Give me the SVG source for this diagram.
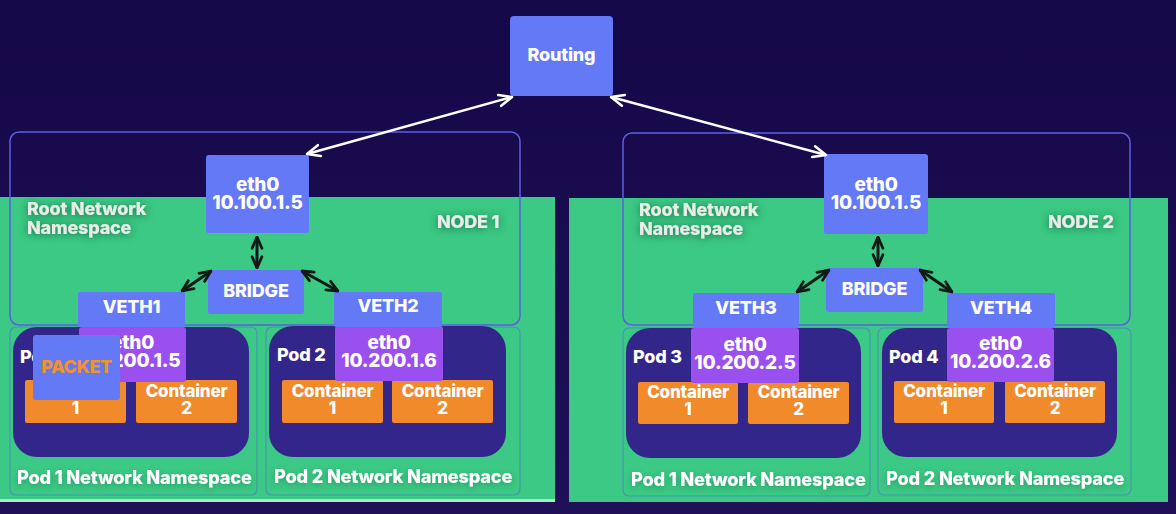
<svg xmlns="http://www.w3.org/2000/svg" width="1176" height="514" viewBox="0 0 1176 514">
<defs>
<linearGradient id="bg" x1="0" y1="0" x2="0" y2="1">
<stop offset="0" stop-color="#150848"/>
<stop offset="1" stop-color="#1f1058"/>
</linearGradient>
<filter id="glow" x="-30%" y="-60%" width="160%" height="220%">
<feDropShadow dx="0" dy="1" stdDeviation="4" flood-color="#0d4a2a" flood-opacity="0.7"/>
</filter>
<filter id="soft" x="-10%" y="-60%" width="120%" height="220%">
<feDropShadow dx="0" dy="2" stdDeviation="3" flood-color="#0d4a2a" flood-opacity="0.35"/>
</filter>
<marker id="ab" viewBox="0 0 10 10" refX="9" refY="5" markerWidth="14" markerHeight="14" orient="auto-start-reverse" markerUnits="userSpaceOnUse">
<path d="M1,1.5 L9,5 L1,8.5" fill="none" stroke="#111a16" stroke-width="2" stroke-linecap="round" stroke-linejoin="round"/>
</marker>
<marker id="aw2" viewBox="0 0 10 10" refX="9" refY="5" markerWidth="16" markerHeight="16" orient="auto-start-reverse" markerUnits="userSpaceOnUse">
<path d="M1,1.5 L9,5 L1,8.5" fill="none" stroke="#ffffff" stroke-width="1.6" stroke-linecap="round" stroke-linejoin="round"/>
</marker>
</defs>
<style>
text{font-family:Inter,"Liberation Sans",sans-serif;font-weight:800;fill:#ffffff;text-anchor:middle;letter-spacing:-0.2px}
.blue{fill:#6479f5}
.purple{fill:#9a4fef}
.orange{fill:#f18a2a}
.pod{fill:#33268a}
.green{fill:#3bc985}
.root{fill:none;stroke:#5c5fe0;stroke-width:1.5}
.ns{fill:none;stroke:#4f8ab8;stroke-width:1.2;stroke-opacity:0.8}
.lbl{fill:#e9ece9;text-anchor:start;filter:url(#glow)}
.nsl{font-size:18.2px;text-anchor:start;filter:url(#soft)}
.big{font-size:19px}
.mid{font-size:18px}
.ctr{font-size:17px}
.wl{stroke:#ffffff;stroke-width:2.5;fill:none}
.bl{stroke:#111a16;stroke-width:3;fill:none}
</style>
<rect width="1176" height="514" fill="url(#bg)"/>

<g id="node1-bg">
<rect class="green" x="0" y="197" width="555" height="304"/>
<rect x="0" y="499" width="555" height="3" fill="#a6eebb"/>
</g>
<g id="node2-bg">
<rect class="green" x="569" y="198" width="599" height="304"/>
</g>

<g id="root-ns-1">
<rect class="root" x="10" y="132" width="510" height="193" rx="9"/>
<text class="lbl mid" x="27" y="215">Root Network</text>
<text class="lbl mid" x="27" y="234">Namespace</text>
<text class="lbl mid" x="437" y="228">NODE 1</text>
</g>
<g id="root-ns-2">
<rect class="root" x="623" y="133" width="507" height="192" rx="9"/>
<text class="lbl mid" x="639" y="216">Root Network</text>
<text class="lbl mid" x="639" y="235">Namespace</text>
<text class="lbl mid" x="1048" y="228">NODE 2</text>
</g>

<g id="pod1-ns">
<rect class="ns" x="10" y="327" width="247" height="168" rx="6"/>
<rect class="pod" x="13" y="327" width="236" height="130" rx="24"/>
<text class="mid" x="20" y="363" style="text-anchor:start">Pod 1</text>
<text class="nsl" x="17" y="484">Pod 1 Network Namespace</text>
</g>
<g id="pod1-c1">
<rect class="orange" x="25" y="380" width="101" height="43" rx="2"/>
<text class="ctr" x="75.5" y="397">Container</text>
<text class="ctr" x="75.5" y="414">1</text>
</g>
<g id="pod1-c2">
<rect class="orange" x="136" y="380" width="101" height="43" rx="2"/>
<text class="ctr" x="186.5" y="397">Container</text>
<text class="ctr" x="186.5" y="414">2</text>
</g>
<g id="pod1-eth0">
<rect class="purple" x="79" y="327" width="107" height="55" rx="3"/>
<text class="big" x="132.5" y="349">eth0</text>
<text class="big" x="132.5" y="367">10.200.1.5</text>
</g>

<g id="pod2-ns">
<rect class="ns" x="266" y="327" width="254" height="168" rx="6"/>
<rect class="pod" x="269" y="326" width="237" height="131" rx="24"/>
<text class="mid" x="277" y="361" style="text-anchor:start">Pod 2</text>
<text class="nsl" x="274" y="483">Pod 2 Network Namespace</text>
</g>
<g id="pod2-c1">
<rect class="orange" x="282" y="380" width="101" height="43" rx="2"/>
<text class="ctr" x="332.5" y="397">Container</text>
<text class="ctr" x="332.5" y="414">1</text>
</g>
<g id="pod2-c2">
<rect class="orange" x="392" y="380" width="101" height="43" rx="2"/>
<text class="ctr" x="442.5" y="397">Container</text>
<text class="ctr" x="442.5" y="414">2</text>
</g>
<g id="pod2-eth0">
<rect class="purple" x="335" y="326" width="108" height="55" rx="3"/>
<text class="big" x="389" y="349">eth0</text>
<text class="big" x="389" y="367">10.200.1.6</text>
</g>

<g id="pod3-ns">
<rect class="ns" x="623" y="328" width="247" height="168" rx="6"/>
<rect class="pod" x="626" y="328" width="235" height="130" rx="24"/>
<text class="mid" x="633" y="363" style="text-anchor:start">Pod 3</text>
<text class="nsl" x="631" y="486">Pod 1 Network Namespace</text>
</g>
<g id="pod3-c1">
<rect class="orange" x="638" y="382" width="100" height="42" rx="2"/>
<text class="ctr" x="688" y="398">Container</text>
<text class="ctr" x="688" y="415">1</text>
</g>
<g id="pod3-c2">
<rect class="orange" x="748" y="382" width="101" height="42" rx="2"/>
<text class="ctr" x="798.5" y="398">Container</text>
<text class="ctr" x="798.5" y="415">2</text>
</g>
<g id="pod3-eth0">
<rect class="purple" x="691" y="328" width="108" height="55" rx="3"/>
<text class="big" x="745" y="351">eth0</text>
<text class="big" x="745" y="369">10.200.2.5</text>
</g>

<g id="pod4-ns">
<rect class="ns" x="878" y="328" width="253" height="167" rx="6"/>
<rect class="pod" x="882" y="328" width="235" height="129" rx="24"/>
<text class="mid" x="889" y="363" style="text-anchor:start">Pod 4</text>
<text class="nsl" x="886" y="485">Pod 2 Network Namespace</text>
</g>
<g id="pod4-c1">
<rect class="orange" x="894" y="381" width="100" height="42" rx="2"/>
<text class="ctr" x="944" y="397">Container</text>
<text class="ctr" x="944" y="414">1</text>
</g>
<g id="pod4-c2">
<rect class="orange" x="1005" y="381" width="100" height="42" rx="2"/>
<text class="ctr" x="1055" y="397">Container</text>
<text class="ctr" x="1055" y="414">2</text>
</g>
<g id="pod4-eth0">
<rect class="purple" x="947" y="328" width="107" height="54" rx="3"/>
<text class="big" x="1000.5" y="350">eth0</text>
<text class="big" x="1000.5" y="368">10.200.2.6</text>
</g>

<g id="routing">
<rect class="blue" x="510" y="16" width="103" height="80" rx="4"/>
<text class="mid" x="561.5" y="61">Routing</text>
</g>
<g id="eth0-node1">
<rect class="blue" x="206" y="155" width="103" height="78" rx="3"/>
<text class="big" x="257.5" y="191">eth0</text>
<text class="big" x="257.5" y="209">10.100.1.5</text>
</g>
<g id="bridge-node1">
<rect class="blue" x="208" y="270" width="96" height="44" rx="3"/>
<text class="mid" x="256" y="297">BRIDGE</text>
</g>
<g id="veth1">
<rect class="blue" x="78" y="292" width="107" height="35" rx="2"/>
<text class="mid" x="131.5" y="313">VETH1</text>
</g>
<g id="veth2">
<rect class="blue" x="334" y="292" width="108" height="35" rx="2"/>
<text class="mid" x="388" y="312">VETH2</text>
</g>
<g id="eth0-node2">
<rect class="blue" x="824" y="154" width="104" height="80" rx="3"/>
<text class="big" x="876" y="191">eth0</text>
<text class="big" x="876" y="209">10.100.1.5</text>
</g>
<g id="bridge-node2">
<rect class="blue" x="826" y="268" width="97" height="44" rx="3"/>
<text class="mid" x="874.5" y="295">BRIDGE</text>
</g>
<g id="veth3">
<rect class="blue" x="693" y="293" width="106" height="35" rx="2"/>
<text class="mid" x="746" y="314">VETH3</text>
</g>
<g id="veth4">
<rect class="blue" x="947" y="293" width="108" height="35" rx="2"/>
<text class="mid" x="1001" y="314">VETH4</text>
</g>

<g id="connectors">
<line class="wl" x1="307" y1="154" x2="512" y2="97" marker-start="url(#aw2)" marker-end="url(#aw2)"/>
<line class="wl" x1="611" y1="97" x2="826" y2="155" marker-start="url(#aw2)" marker-end="url(#aw2)"/>
<line class="bl" x1="257" y1="237" x2="257" y2="268" marker-start="url(#ab)" marker-end="url(#ab)"/>
<line class="bl" x1="182" y1="291" x2="211" y2="271" marker-start="url(#ab)" marker-end="url(#ab)"/>
<line class="bl" x1="302" y1="271" x2="338" y2="291" marker-start="url(#ab)" marker-end="url(#ab)"/>
<line class="bl" x1="878" y1="237" x2="878" y2="266" marker-start="url(#ab)" marker-end="url(#ab)"/>
<line class="bl" x1="797" y1="292" x2="829" y2="270" marker-start="url(#ab)" marker-end="url(#ab)"/>
<line class="bl" x1="920" y1="270" x2="952" y2="292" marker-start="url(#ab)" marker-end="url(#ab)"/>
</g>

<g id="packet">
<rect class="blue" x="33" y="335" width="87" height="65" rx="3"/>
<text style="fill:#f1922e;font-size:18px;letter-spacing:-0.4px" x="76.5" y="373">PACKET</text>
</g>
</svg>
